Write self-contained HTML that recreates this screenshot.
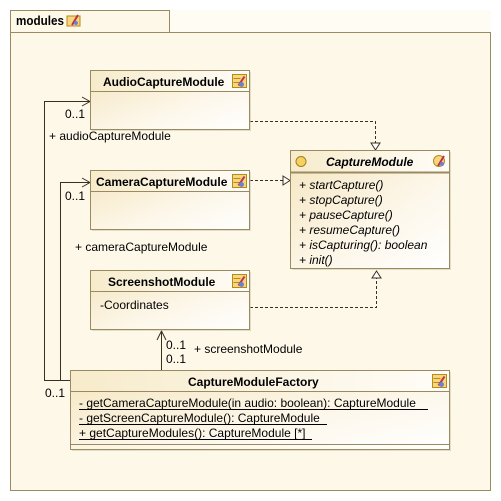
<!DOCTYPE html>
<html><head><meta charset="utf-8"><style>
html,body{margin:0;padding:0;background:#fff;}
svg{display:block;font-family:"Liberation Sans",sans-serif;font-size:12px;}
</style></head><body>
<svg width="501" height="501" viewBox="0 0 501 501" xmlns="http://www.w3.org/2000/svg">
<defs>
<linearGradient id="g" x1="0" y1="0" x2="1" y2="1">
<stop offset="0" stop-color="#f5e6c0"/><stop offset="0.6" stop-color="#fdf7ea"/><stop offset="1" stop-color="#ffffff"/>
</linearGradient>
<linearGradient id="h" x1="0" y1="0" x2="1" y2="0">
<stop offset="0" stop-color="#f7ebcb"/><stop offset="1" stop-color="#fffdf8"/>
</linearGradient>
<g id="ic">
<rect x="0" y="0" width="14" height="13" fill="#f6d77c" stroke="#b58a1a"/>
<line x1="1" y1="4" x2="8" y2="4" stroke="#b58a1a"/><line x1="1" y1="8" x2="8" y2="8" stroke="#b58a1a"/>
<path d="M6 11 L12 2" stroke="#c03050" stroke-width="2"/><circle cx="9" cy="10" r="2.5" fill="#7080d0"/>
</g>
</defs>
<rect width="501" height="501" fill="#fff"/>
<rect x="10.5" y="10.5" width="480" height="480" fill="#fef8e9" stroke="#9a8a60"/>
<rect x="170" y="10" width="321" height="22" fill="#fffcf3"/>
<path d="M10.5 32.5 H490.5 M10.5 10.5 H169.5 V32.5" fill="none" stroke="#9a8a60"/>
<text x="16" y="25" font-weight="bold" font-size="12.5" textLength="48" lengthAdjust="spacingAndGlyphs">modules</text>
<g transform="translate(67,14)"><rect x="0" y="2" width="13" height="10" fill="#f6d77c" stroke="#b58a1a"/><path d="M5 11 L11 1" stroke="#c03050" stroke-width="2"/><circle cx="9" cy="9" r="2" fill="#7080d0"/></g>

<!-- connectors -->
<g fill="none" stroke="#3a3020" stroke-width="1">
<path d="M70 380.5 H44.5 V101.5 H90"/>
<path d="M82 97 L90 101.5 L82 106"/>
<path d="M70 380.5 H60.5 V182.5 H90"/>
<path d="M82 178 L90 182.5 L82 187"/>
<path d="M161.5 370 V331"/>
<path d="M157 340 L161.5 331 L166 340"/>
</g>
<g fill="none" stroke="#3a3020" stroke-dasharray="3,2">
<path d="M250 121.5 H375.5 V143"/>
<path d="M250 180.5 H283"/>
<path d="M250 307.5 H376.5 V278"/>
</g>
<g fill="#fff" stroke="#3a3020">
<path d="M371 143 L375.5 150 L380 143 Z"/>
<path d="M283 176 L290 180.5 L283 185 Z"/>
<path d="M372 278 L376.5 271 L381 278 Z"/>
</g>

<!-- Audio -->
<rect x="92" y="72" width="159" height="59" fill="#c8bfa8" opacity="0.5"/>
<rect x="90.5" y="70.5" width="159" height="59" fill="url(#g)" stroke="#9a8a60"/>
<rect x="91" y="71" width="158" height="20" fill="url(#h)"/>
<line x1="90.5" y1="91.5" x2="249.5" y2="91.5" stroke="#9a8a60"/>
<text x="103" y="86" font-weight="bold">AudioCaptureModule</text>
<use href="#ic" x="232.5" y="74.5"/>

<!-- Camera -->
<rect x="92" y="172" width="159" height="59" fill="#c8bfa8" opacity="0.5"/>
<rect x="90.5" y="170.5" width="159" height="59" fill="url(#g)" stroke="#9a8a60"/>
<rect x="91" y="171" width="158" height="20" fill="url(#h)"/>
<line x1="90.5" y1="191.5" x2="249.5" y2="191.5" stroke="#9a8a60"/>
<text x="96" y="186" font-weight="bold">CameraCaptureModule</text>
<use href="#ic" x="232.5" y="174.5"/>

<!-- Screenshot -->
<rect x="92" y="272" width="159" height="59" fill="#c8bfa8" opacity="0.5"/>
<rect x="90.5" y="270.5" width="159" height="59" fill="url(#g)" stroke="#9a8a60"/>
<rect x="91" y="271" width="158" height="20" fill="url(#h)"/>
<line x1="90.5" y1="291.5" x2="249.5" y2="291.5" stroke="#9a8a60"/>
<text x="108" y="286" font-weight="bold">ScreenshotModule</text>
<use href="#ic" x="232.5" y="274.5"/>
<text x="100" y="309">-Coordinates</text>

<!-- CaptureModule -->
<rect x="292" y="152" width="159" height="118" fill="#c8bfa8" opacity="0.5"/>
<rect x="290.5" y="150.5" width="159" height="118" fill="url(#g)" stroke="#9a8a60"/>
<rect x="291" y="151" width="158" height="21" fill="url(#h)"/>
<line x1="290.5" y1="172.5" x2="449.5" y2="172.5" stroke="#9a8a60" stroke-width="2"/>
<circle cx="301" cy="161.5" r="5" fill="#f6d060" stroke="#a08020"/>
<text x="326" y="166" font-weight="bold" font-style="italic">CaptureModule</text>
<g transform="translate(433,155)"><circle cx="6" cy="6" r="5.5" fill="#f6d77c" stroke="#b58a1a"/><path d="M5 11 L11 1" stroke="#c03050" stroke-width="2"/><circle cx="9" cy="9" r="2" fill="#7080d0"/></g>
<g font-style="italic">
<text x="299" y="189">+ startCapture()</text>
<text x="299" y="204">+ stopCapture()</text>
<text x="299" y="219">+ pauseCapture()</text>
<text x="299" y="234">+ resumeCapture()</text>
<text x="299" y="249">+ isCapturing(): boolean</text>
<text x="299" y="264">+ init()</text>
</g>

<!-- Factory -->
<rect x="72" y="372" width="379" height="79" fill="#c8bfa8" opacity="0.5"/>
<rect x="70.5" y="370.5" width="379" height="79" fill="url(#g)" stroke="#9a8a60"/>
<rect x="71" y="371" width="378" height="20" fill="url(#h)"/>
<line x1="70.5" y1="391.5" x2="449.5" y2="391.5" stroke="#9a8a60"/>
<line x1="70.5" y1="444.5" x2="449.5" y2="444.5" stroke="#9a8a60"/>
<text x="188" y="386" font-weight="bold">CaptureModuleFactory</text>
<use href="#ic" x="432.5" y="374.5"/>
<text x="79" y="407">- getCameraCaptureModule(in audio: boolean): CaptureModule</text>
<text x="79" y="422">- getScreenCaptureModule(): CaptureModule</text>
<text x="79" y="437">+ getCaptureModules(): CaptureModule [*]</text>
<g stroke="#000"><line x1="79" y1="409.5" x2="428" y2="409.5"/><line x1="79" y1="424.5" x2="327" y2="424.5"/><line x1="79" y1="439.5" x2="312" y2="439.5"/></g>

<!-- labels -->
<text x="65" y="118">0..1</text>
<text x="49" y="140">+ audioCaptureModule</text>
<text x="65" y="200">0..1</text>
<text x="75" y="251">+ cameraCaptureModule</text>
<text x="166" y="349">0..1</text>
<text x="166" y="363">0..1</text>
<text x="194" y="353">+ screenshotModule</text>
<text x="45" y="397">0..1</text>
</svg>
</body></html>
